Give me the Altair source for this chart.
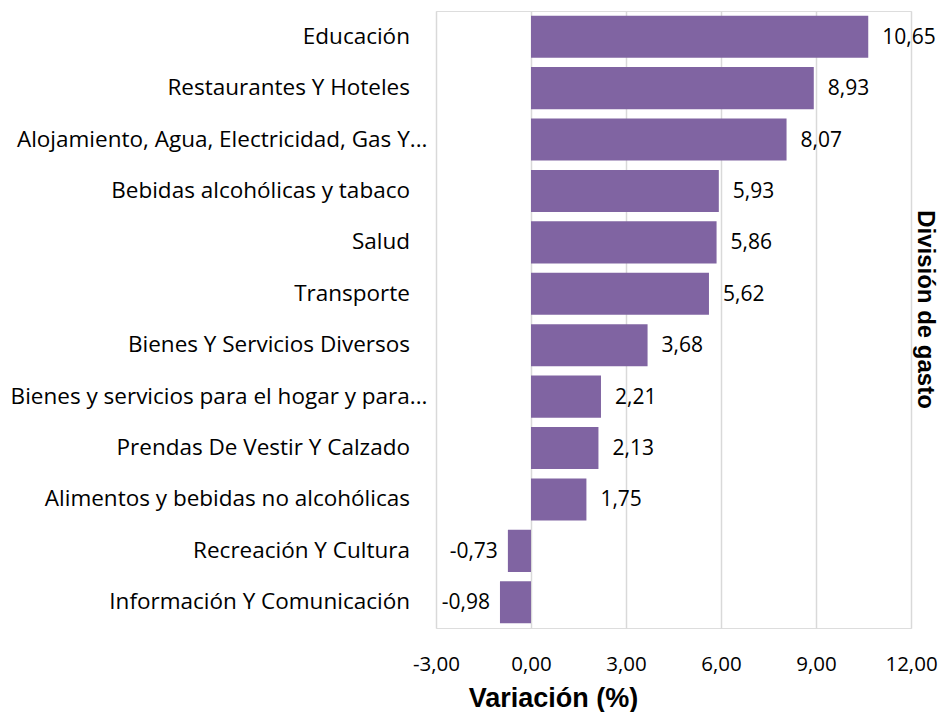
import altair as alt
import pandas as pd

categorias = [
    "Educación",
    "Restaurantes Y Hoteles",
    "Alojamiento, Agua, Electricidad, Gas Y...",
    "Bebidas alcohólicas y tabaco",
    "Salud",
    "Transporte",
    "Bienes Y Servicios Diversos",
    "Bienes y servicios para el hogar y para...",
    "Prendas De Vestir Y Calzado",
    "Alimentos y bebidas no alcohólicas",
    "Recreación Y Cultura",
    "Información Y Comunicación",
]
variacion = [10.65, 8.93, 8.07, 5.93, 5.86, 5.62, 3.68, 2.21, 2.13, 1.75, -0.73, -0.98]
x_ticks = [-3, 0, 3, 6, 9, 12]
titulo_y = ["División de gasto"]

df = pd.DataFrame({"cat": categorias, "val": variacion})
df["lab"] = [f"{v:.2f}".replace(".", ",") for v in variacion]

FONT = "Open Sans"
PURPLE = "#8064A2"
W, H = 475, 617

x_enc = alt.X(
    "val:Q",
    scale=alt.Scale(domain=[-3, 12], nice=False, zero=False),
    axis=alt.Axis(
        values=x_ticks,
        labelExpr="replace(replace(format(datum.value, '.2f'), '.', ','), '\u2212', '-')",
        labelFlush=False,
        labelOverlap=False,
        title="Variación (%)",
        titleFont="Liberation Sans",
        titleFontSize=27,
        titleFontWeight="bold",
        titleColor="#000000",
        titleX=117,
        titleY=78,
        titleAlign="center",
        titleBaseline="alphabetic",
        labelFont=FONT,
        labelFontSize=20.5,
        labelColor="#000000",
        labelPadding=26,
        domain=False,
        ticks=False,
        tickSize=0,
        grid=True,
        gridColor="#d9d9d9",
        gridWidth=1.5,
    ),
)
y_enc = alt.Y(
    "cat:N",
    sort=categorias,
    scale=alt.Scale(paddingInner=0.18, paddingOuter=0.09),
    axis=alt.Axis(
        title=None,
        labelFont=FONT,
        labelFontSize=22.5,
        labelColor="#000000",
        labelPadding=9,
        labelLimit=600,
        labelExpr="indexof(datum.label, '...') >= 0 ? datum.label : datum.label + '\u00a0\u00a0\u00a0\u200b'",
        domain=False,
        ticks=False,
        tickSize=0,
        grid=False,
    ),
)

base = alt.Chart(df)

bars = base.mark_bar(color=PURPLE).encode(x=x_enc, y=y_enc)

pos_labels = base.transform_filter("datum.val >= 0").mark_text(
    align="left", baseline="middle", dx=14, dy=1, font=FONT, fontSize=21, color="#000000"
).encode(x="val:Q", y=alt.Y("cat:N", sort=categorias), text="lab:N")

neg_labels = base.transform_filter("datum.val < 0").mark_text(
    align="right", baseline="middle", dx=-10, dy=1, font=FONT, fontSize=21, color="#000000"
).encode(x="val:Q", y=alt.Y("cat:N", sort=categorias), text="lab:N")

side_title = alt.Chart(pd.DataFrame({"t": titulo_y})).mark_text(
    angle=90,
    align="center",
    baseline="bottom",
    font="Liberation Sans",
    fontSize=24,
    fontWeight="bold",
    color="#000000",
).encode(x=alt.value(W + 2), y=alt.value(H / 2 - 10), text="t:N")

chart = (
    alt.layer(bars, pos_labels, neg_labels, side_title)
    .properties(
        width=W,
        height=H,
        autosize=alt.AutoSizeParams(type="none"),
        padding={"left": 428, "top": 3, "right": 29, "bottom": 84},
    )
    .configure_view(stroke=None)
    .configure(background="#ffffff")
)

chart.save("out.html", embed_options={"renderer": "svg", "actions": False})
